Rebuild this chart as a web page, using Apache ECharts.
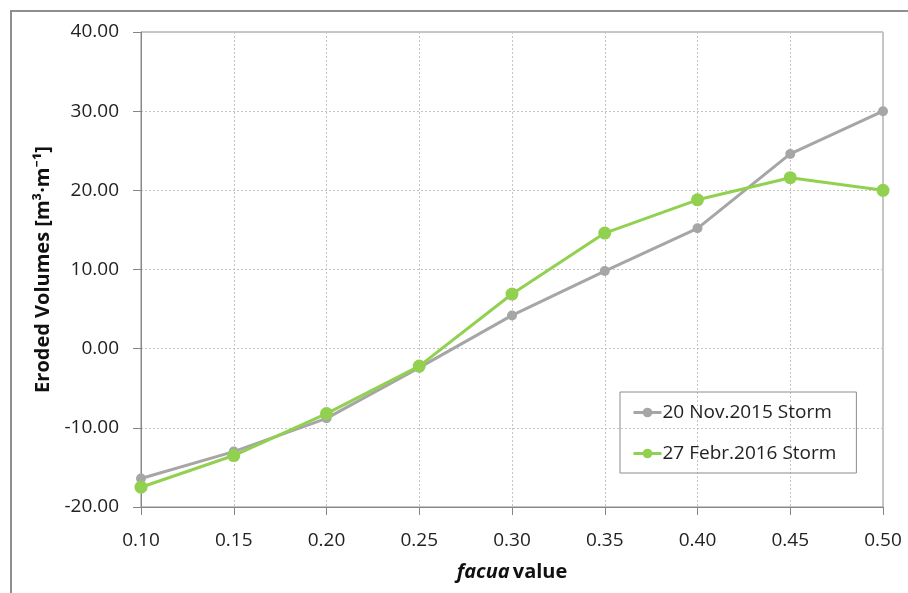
<!DOCTYPE html>
<html>
<head>
<meta charset="utf-8">
<script src="https://cdn.jsdelivr.net/npm/echarts@6/dist/echarts.min.js"></script>
<style>html,body{margin:0;padding:0;background:#fff;}#c{width:908px;height:593px;}</style>
</head>
<body>
<div id="c"></div>
<script>
const categories = ['0.10','0.15','0.20','0.25','0.30','0.35','0.40','0.45','0.50'];
const novStorm = [-16.4, -13.0, -8.8, -2.4, 4.2, 9.8, 15.2, 24.6, 30.0];
const febStorm = [-17.5, -13.5, -8.2, -2.2, 6.9, 14.6, 18.8, 21.6, 20.0];
const seriesNames = ['20 Nov.2015 Storm', '27 Febr.2016 Storm'];

const font = 'Open Sans, Noto Sans, Liberation Sans, sans-serif';
const chart = echarts.init(document.getElementById('c'));
chart.setOption({
  animation: false,
  backgroundColor: '#fff',
  textStyle: { fontFamily: font },
  graphic: [{
    type: 'polyline',
    shape: { points: [[11, 593], [11, 11], [908, 11]] },
    style: { stroke: '#8f8f8f', lineWidth: 2, fill: null }
  }],
  grid: { left: 141, right: 25, top: 32, bottom: 86, show: true, borderColor: '#8c8c8c', borderWidth: 1, outerBoundsMode: 'none', containLabel: false },
  legend: {
    orient: 'vertical',
    left: 620, top: 392,
    padding: [11, 20, 10, 12],
    itemGap: 22,
    itemWidth: 28, itemHeight: 12,
    borderColor: '#8c8c8c', borderWidth: 1,
    lineStyle: { width: 3 },
    textStyle: { fontSize: 19, color: '#222', fontFamily: font, padding: [0, 0, 0, -4] },
    data: seriesNames
  },
  xAxis: {
    type: 'category',
    data: categories,
    boundaryGap: false,
    axisLine: { onZero: false, lineStyle: { color: '#868686', width: 1 } },
    axisTick: { show: true, length: 8, lineStyle: { color: '#868686' } },
    axisLabel: { fontSize: 19, color: '#222', margin: 24 },
    splitLine: { show: true, lineStyle: { color: '#c4c4c4', type: [2, 2], width: 1 } },
    name: '{i|facua} {b|value}',
    nameLocation: 'middle',
    nameGap: 55,
    nameTextStyle: {
      rich: {
        i: { fontSize: 20, fontWeight: 'bold', fontStyle: 'italic', color: '#111', fontFamily: font },
        b: { fontSize: 20, fontWeight: 'bold', color: '#111', fontFamily: font }
      }
    }
  },
  yAxis: {
    type: 'value',
    min: -20, max: 40, interval: 10,
    axisLine: { show: true, lineStyle: { color: '#868686', width: 1 } },
    axisTick: { show: true, length: 8, lineStyle: { color: '#868686' } },
    axisLabel: { fontSize: 19, color: '#222', margin: 22, formatter: v => v.toFixed(2) },
    splitLine: { show: true, lineStyle: { color: '#c4c4c4', type: [2, 2], width: 1 } },
    name: 'Eroded Volumes [m³·m⁻¹]',
    nameLocation: 'middle',
    nameGap: 84,
    nameTextStyle: { fontSize: 20, fontWeight: 'bold', color: '#111' }
  },
  series: [
    {
      name: seriesNames[0], type: 'line', data: novStorm,
      symbol: 'circle', symbolSize: 10,
      lineStyle: { color: '#a6a6a6', width: 3 },
      itemStyle: { color: '#a6a6a6' }
    },
    {
      name: seriesNames[1], type: 'line', data: febStorm,
      symbol: 'circle', symbolSize: 13,
      lineStyle: { color: '#92d050', width: 3 },
      itemStyle: { color: '#92d050' }
    }
  ]
});
</script>
</body>
</html>
